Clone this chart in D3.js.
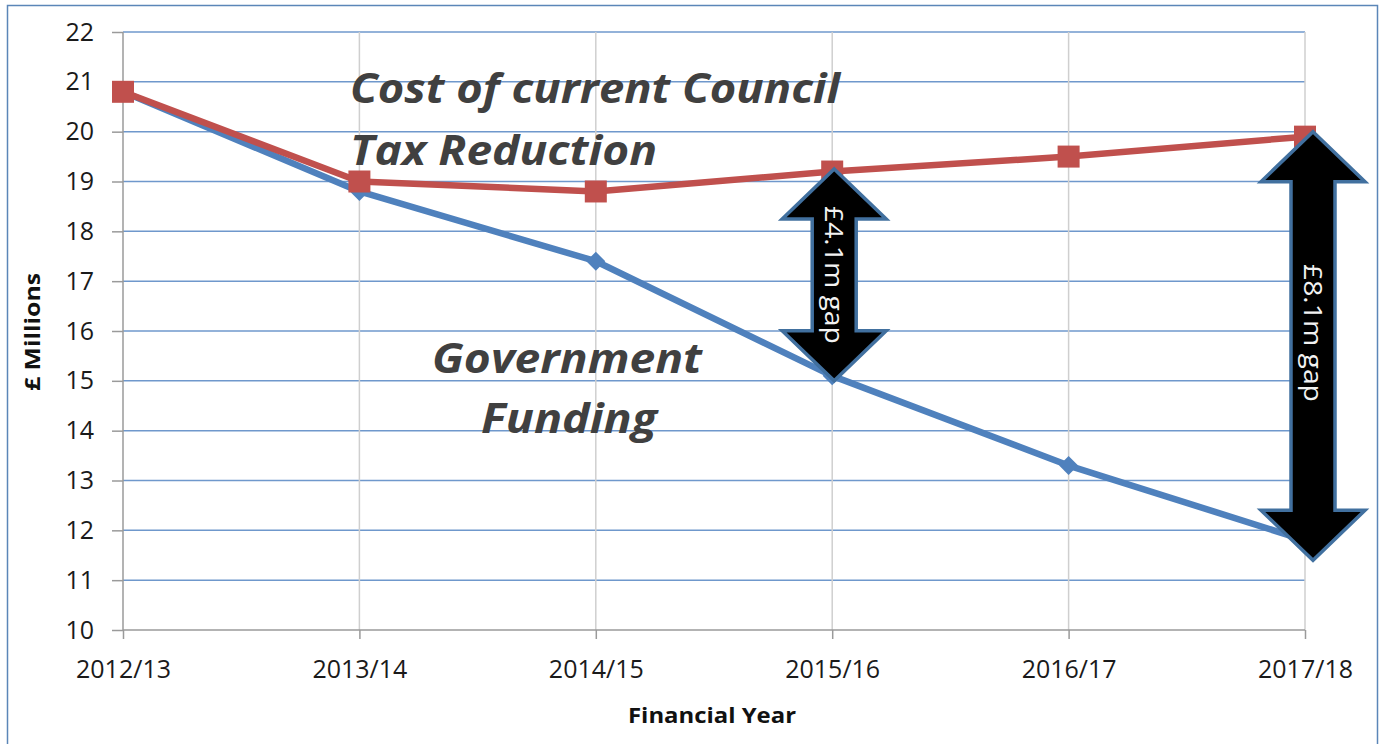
<!DOCTYPE html>
<html><head><meta charset="utf-8">
<script src="https://cdn.jsdelivr.net/npm/d3@7"></script>
<style>
html,body{margin:0;padding:0;background:#fff;}
svg{display:block;}
</style>
</head><body>
<svg id="chart" width="1382" height="744"></svg>
<script>
// ---- data ----
const categories = ["2012/13","2013/14","2014/15","2015/16","2016/17","2017/18"];
const costValues = [20.8, 19.0, 18.8, 19.2, 19.5, 19.9];
const fundingValues = [20.8, 18.8, 17.4, 15.1, 13.3, 11.8];
const yTicks = [10,11,12,13,14,15,16,17,18,19,20,21,22];
const gapLabels = ["£4.1m gap","£8.1m gap"];
const gapCategories = ["2015/16","2017/18"];
const gapTop = [19.25, 20.0];
const gapBottom = [15.0, 11.4];
const costLabel = ["Cost of current Council","Tax Reduction"];
const fundingLabel = ["Government","Funding"];
const yTitle = "£ Millions";
const xTitle = "Financial Year";

(function(){
const svg = d3.select("#chart");
const pL = 123, pR = 1305, pT = 32, pB = 630;
const font = "'Open Sans', 'DejaVu Sans', sans-serif";

// outer border
svg.append("rect").attr("x",7.5).attr("y",5.5).attr("width",1370).attr("height",760)
  .attr("fill","none").attr("stroke","#5b86b8").attr("stroke-width",1.5);

const x = d3.scalePoint().domain(categories).range([pL,pR]);
const y = d3.scaleLinear().domain([10,22]).range([pB,pT]);

// horizontal gridlines
svg.append("g").selectAll("line").data(yTicks.filter(d=>d>10)).join("line")
  .attr("x1",pL).attr("x2",pR).attr("y1",d=>y(d)).attr("y2",d=>y(d))
  .attr("stroke","#6f98cc").attr("stroke-width",1.5);
// vertical gridlines
svg.append("g").selectAll("line").data(categories.slice(1)).join("line")
  .attr("x1",d=>x(d)).attr("x2",d=>x(d)).attr("y1",pT).attr("y2",pB)
  .attr("stroke","#cfcfcf").attr("stroke-width",1.5);

// y axis
const yAxis = svg.append("g").attr("transform",`translate(${pL},0)`)
  .call(d3.axisLeft(y).tickValues(yTicks).tickSize(11).tickPadding(6).tickFormat(d3.format("d")));
yAxis.select(".domain").attr("stroke","#9a9a9a").attr("stroke-width",1.5).attr("d",`M0,${pT}V${pB}`);
yAxis.selectAll(".tick line").attr("stroke","#9a9a9a").attr("stroke-width",1.5);
yAxis.selectAll(".tick text").attr("font-family",font).attr("font-size",25).attr("fill","#1a1a1a").attr("dx",-12);

// x axis
const xAxis = svg.append("g").attr("transform",`translate(0,${pB})`)
  .call(d3.axisBottom(x).tickSize(9).tickPadding(21));
xAxis.select(".domain").attr("stroke","#9a9a9a").attr("stroke-width",1.5).attr("d",`M${pL},0H${pR}`);
xAxis.selectAll(".tick line").attr("stroke","#9a9a9a").attr("stroke-width",1.5);
xAxis.selectAll(".tick text").attr("font-family",font).attr("font-size",25).attr("fill","#1a1a1a");

// titles
svg.append("text").attr("transform","translate(40,332) rotate(-90)").attr("text-anchor","middle")
  .attr("font-family",font).attr("font-weight","bold").attr("font-size",22).attr("fill","#111")
  .attr("textLength",118).attr("lengthAdjust","spacingAndGlyphs").text(yTitle);
svg.append("text").attr("x",712).attr("y",723).attr("text-anchor","middle")
  .attr("font-family",font).attr("font-weight","bold").attr("font-size",22).attr("fill","#111")
  .attr("textLength",168).attr("lengthAdjust","spacingAndGlyphs").text(xTitle);

// lines
const line = d3.line().x((d,i)=>x(categories[i])).y(d=>y(d));
svg.append("path").datum(fundingValues).attr("d",line).attr("fill","none")
  .attr("stroke","#4f81bd").attr("stroke-width",6.5).attr("stroke-linejoin","round");
svg.selectAll(".dia").data(fundingValues).join("path").attr("class","dia")
  .attr("d",d3.symbol(d3.symbolDiamond2,230))
  .attr("transform",(d,i)=>`translate(${x(categories[i])},${y(d)})`).attr("fill","#4f81bd");
svg.append("path").datum(costValues).attr("d",line).attr("fill","none")
  .attr("stroke","#c0504d").attr("stroke-width",6.5).attr("stroke-linejoin","round");
svg.selectAll(".sq").data(costValues).join("rect").attr("class","sq")
  .attr("x",(d,i)=>x(categories[i])-11).attr("y",d=>y(d)-11).attr("width",22).attr("height",22)
  .attr("fill","#c0504d");

// annotation text
const annoColor = "#404040";
function anno(tx, ty, anchor, len, s){
  svg.append("text").attr("x",tx).attr("y",ty).attr("text-anchor",anchor).attr("font-family",font)
    .attr("font-style","italic").attr("font-weight","bold").attr("font-size",42).attr("fill",annoColor)
    .attr("textLength",len).attr("lengthAdjust","spacingAndGlyphs").text(s);
}
anno(350,103,"start",490,costLabel[0]);
anno(350,165,"start",307,costLabel[1]);
anno(567,373,"middle",270,fundingLabel[0]);
anno(569,433,"middle",176,fundingLabel[1]);

// double arrows
const xOff = [2, 8];
const textShift = [0, -13];
gapLabels.forEach((lab,i)=>{
  const cx = x(gapCategories[i]) + xOff[i];
  const t = y(gapTop[i]), b = y(gapBottom[i]);
  const hw = 52, sw = 22, hl = 50;
  const pts = [
    [cx,t],[cx+hw,t+hl],[cx+sw,t+hl],[cx+sw,b-hl],[cx+hw,b-hl],[cx,b],
    [cx-hw,b-hl],[cx-sw,b-hl],[cx-sw,t+hl],[cx-hw,t+hl]
  ];
  svg.append("path").attr("d","M"+pts.map(p=>p.join(",")).join("L")+"Z")
    .attr("fill","#000").attr("stroke","#41709f").attr("stroke-width",3.5).attr("stroke-linejoin","miter");
  svg.append("text").attr("transform",`translate(${cx-9},${(t+b)/2 + textShift[i]}) rotate(90)`)
    .attr("text-anchor","middle").attr("font-family",font).attr("font-size",26)
    .attr("fill","#f2f2f2").attr("textLength",138).attr("lengthAdjust","spacingAndGlyphs").text(lab);
});
})();
</script>
</body></html>
